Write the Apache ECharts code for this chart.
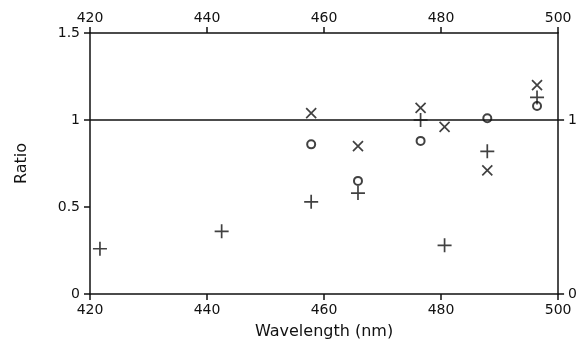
<!DOCTYPE html>
<html>
<head>
<meta charset="utf-8">
<script src="https://cdn.jsdelivr.net/npm/echarts@6/dist/echarts.min.js"></script>
<style>
  html, body { margin: 0; padding: 0; background: #fff; }
  #chart { width: 580px; height: 345px; }
</style>
</head>
<body>
<div id="chart"></div>
<script>
// Measured ratios, three sample sets, plotted against wavelength (nm)
const plusWavelength = [421.7, 442.5, 457.8, 465.8, 476.5, 480.6, 487.9, 496.4];
const plusRatio      = [0.26, 0.36, 0.53, 0.58, 1.00, 0.28, 0.82, 1.13];

const crossWavelength = [457.8, 465.8, 476.5, 480.6, 487.9, 496.4];
const crossRatio      = [1.04, 0.85, 1.07, 0.96, 0.71, 1.20];

const circleWavelength = [457.8, 465.8, 476.5, 487.9, 496.4];
const circleRatio      = [0.86, 0.65, 0.88, 1.01, 1.08];

// axis ranges and tick steps
const xMin = 420, xMax = 500, xStep = 20;
const yMin = 0, yMax = 1.5, yStep = 0.5;
const rightTicks = [0, 1];
const referenceRatio = 1;

const pairs = (xs, ys) => xs.map((x, i) => [x, ys[i]]);

const FONT = 'DejaVu Sans';
const INK = '#111';

// keep every axis on the frame edge instead of snapping to the other axis's zero
const axisLine = { show: true, onZero: false, lineStyle: { color: INK, width: 1.5 } };
const tickStyle = { show: true, length: 6, inside: false, lineStyle: { color: INK, width: 1.5 } };
const labelStyle = margin => ({
  color: INK, fontFamily: FONT, fontSize: 14, margin, formatter: v => String(v)
});

const markerStyle = { color: 'rgba(0,0,0,0)', borderColor: INK, borderWidth: 1.7 };

const chart = echarts.init(document.getElementById('chart'), null, { renderer: 'canvas' });
chart.setOption({
  animation: false,
  backgroundColor: '#fff',
  grid: { left: 90, right: 21, top: 33, bottom: 48, containLabel: false },
  xAxis: [
    {
      type: 'value', position: 'bottom', min: xMin, max: xMax, interval: xStep,
      name: 'Wavelength (nm)', nameLocation: 'middle', nameGap: 30,
      nameTextStyle: { color: INK, fontFamily: FONT, fontSize: 16 },
      axisLine, axisTick: tickStyle, axisLabel: labelStyle(9),
      splitLine: { show: false }
    },
    {
      type: 'value', position: 'top', min: xMin, max: xMax, interval: xStep,
      axisLine, axisTick: tickStyle, axisLabel: labelStyle(8),
      splitLine: { show: false }
    }
  ],
  yAxis: [
    {
      type: 'value', position: 'left', min: yMin, max: yMax, interval: yStep,
      name: 'Ratio', nameLocation: 'middle', nameGap: 60, nameRotate: 90,
      nameTextStyle: { color: INK, fontFamily: FONT, fontSize: 16 },
      axisLine, axisTick: tickStyle, axisLabel: labelStyle(10),
      splitLine: { show: false }
    },
    {
      type: 'value', position: 'right', min: yMin, max: yMax, interval: yStep,
      axisLine,
      axisTick: Object.assign({}, tickStyle, { customValues: rightTicks }),
      axisLabel: Object.assign(labelStyle(10), { customValues: rightTicks }),
      splitLine: { show: false }
    }
  ],
  series: [
    {
      name: 'plus', type: 'scatter', xAxisIndex: 0, yAxisIndex: 0,
      symbol: 'path://M0,-7V7M-7,0H7', symbolSize: 14,
      itemStyle: markerStyle,
      data: pairs(plusWavelength, plusRatio),
      markLine: {
        silent: true, symbol: ['none', 'none'], label: { show: false },
        lineStyle: { color: INK, width: 1.5, type: 'solid' },
        data: [{ yAxis: referenceRatio }]
      }
    },
    {
      name: 'cross', type: 'scatter', xAxisIndex: 0, yAxisIndex: 0,
      symbol: 'path://M-5,-5L5,5M-5,5L5,-5', symbolSize: 10,
      itemStyle: markerStyle,
      data: pairs(crossWavelength, crossRatio)
    },
    {
      name: 'circle', type: 'scatter', xAxisIndex: 0, yAxisIndex: 0,
      symbol: 'circle', symbolSize: 8,
      itemStyle: { color: 'rgba(0,0,0,0)', borderColor: INK, borderWidth: 2 },
      data: pairs(circleWavelength, circleRatio)
    }
  ]
});
</script>
</body>
</html>
